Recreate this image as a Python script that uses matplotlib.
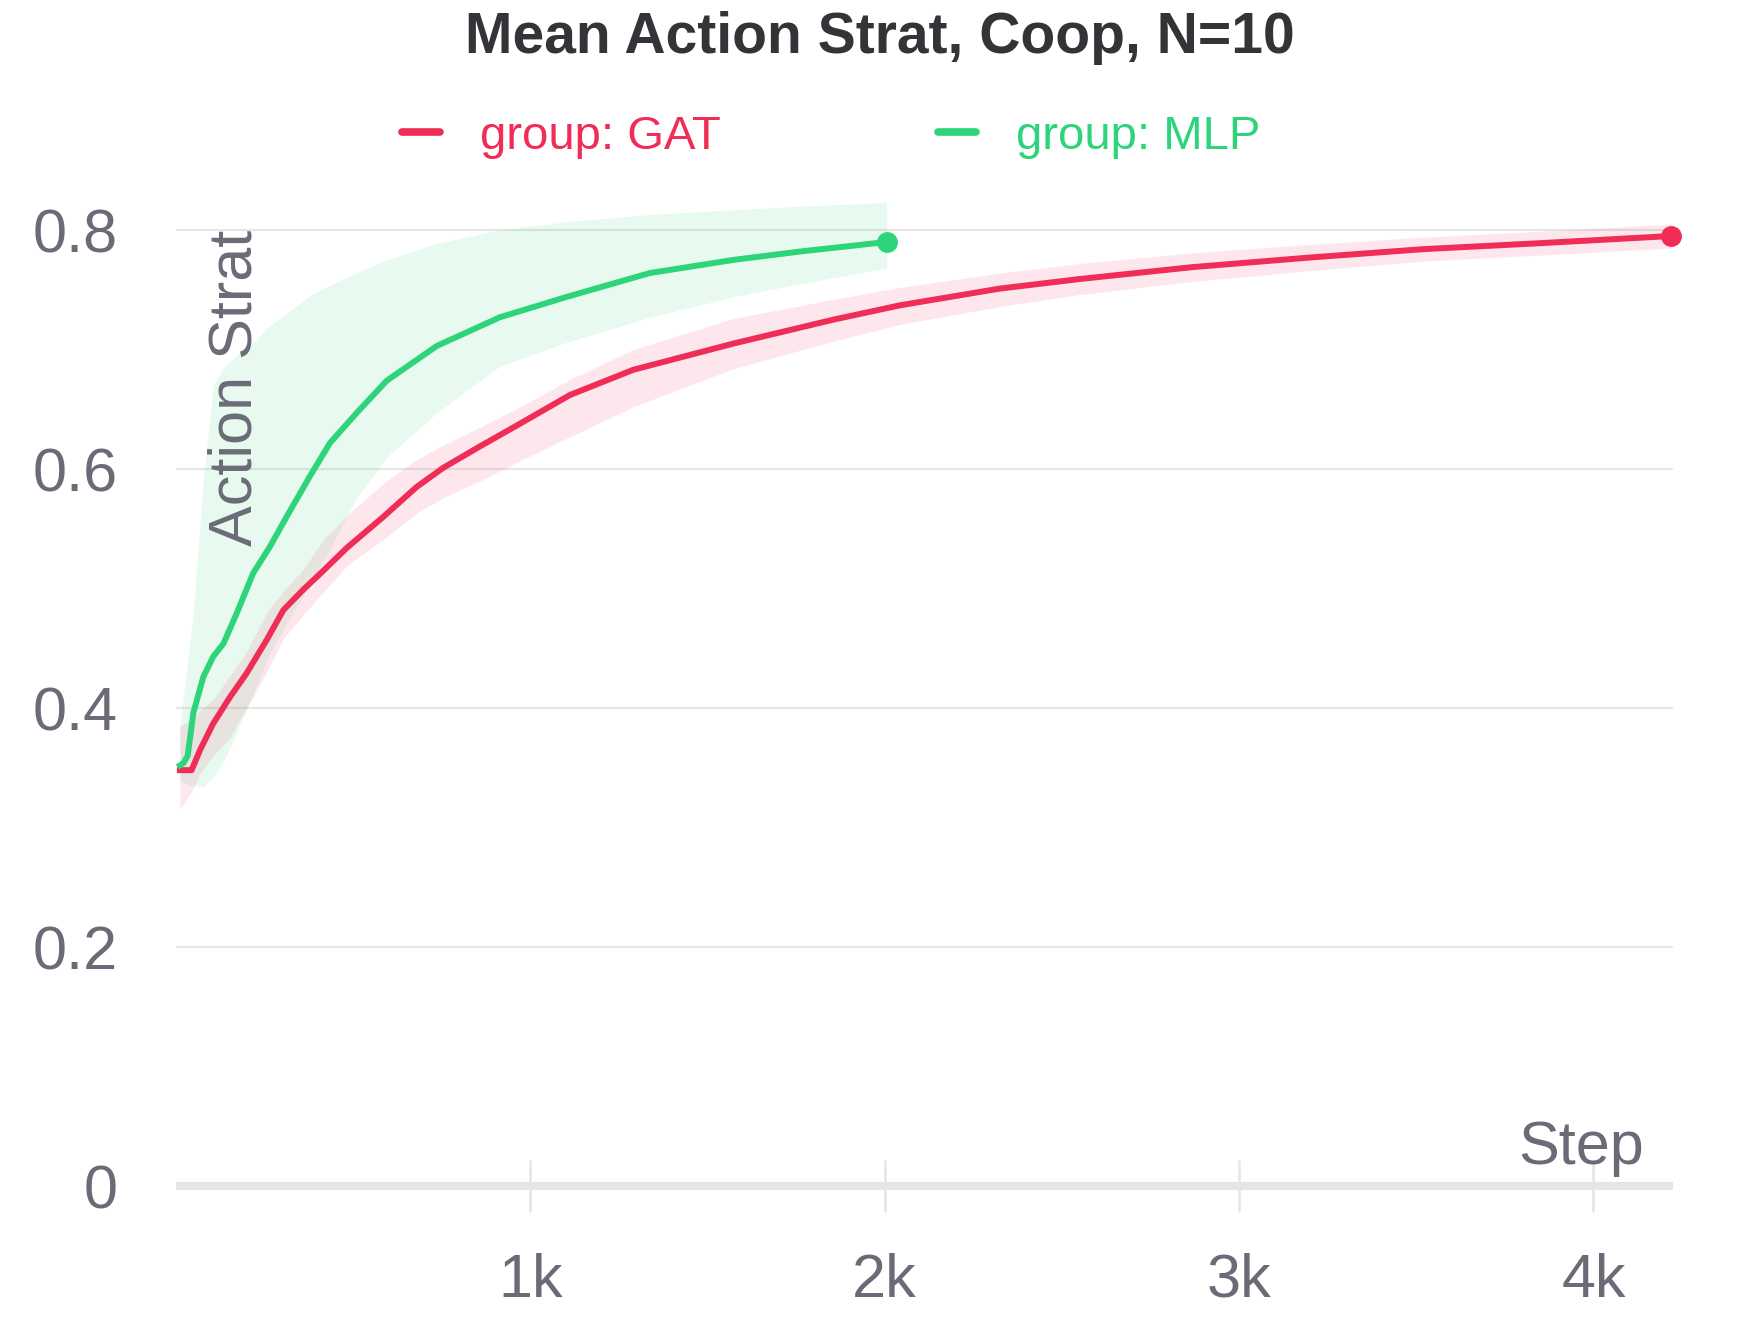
import numpy as np
import matplotlib
matplotlib.use("Agg")
import matplotlib.pyplot as plt

plt.rcParams['font.family'] = ['Liberation Sans', 'DejaVu Sans']

# ---- data ----
gat_step = [11, 44, 68, 105, 152, 199, 256, 303, 359, 416, 482, 585, 679, 754,
            858, 971, 1112, 1290, 1573, 1855, 2043, 2325, 2550, 2870, 3200, 3520,
            3850, 4220]
gat_mean = [0.348, 0.348, 0.365, 0.387, 0.409, 0.429, 0.457, 0.482, 0.499, 0.515,
            0.534, 0.560, 0.585, 0.601, 0.619, 0.638, 0.662, 0.683, 0.705, 0.725,
            0.737, 0.751, 0.759, 0.769, 0.777, 0.784, 0.789, 0.795]
gat_lo = [0.315, 0.330, 0.345, 0.360, 0.375, 0.400, 0.430, 0.458, 0.478, 0.497,
          0.519, 0.541, 0.563, 0.576, 0.590, 0.607, 0.627, 0.652, 0.684, 0.707,
          0.721, 0.736, 0.746, 0.757, 0.766, 0.774, 0.779, 0.785]
gat_hi = [0.385, 0.390, 0.398, 0.407, 0.427, 0.447, 0.480, 0.498, 0.516, 0.541,
          0.561, 0.588, 0.608, 0.620, 0.635, 0.652, 0.675, 0.700, 0.726, 0.742,
          0.752, 0.764, 0.772, 0.781, 0.788, 0.794, 0.799, 0.805]

mlp_step = [11, 21, 33, 49, 77, 105, 134, 171, 218, 265, 312, 378, 435, 510, 595,
            736, 914, 1102, 1337, 1573, 1761, 2005]
mlp_mean = [0.352, 0.354, 0.360, 0.396, 0.426, 0.443, 0.454, 0.479, 0.513, 0.535,
            0.560, 0.594, 0.622, 0.647, 0.674, 0.703, 0.727, 0.744, 0.764, 0.775,
            0.782, 0.790]
mlp_lo = [0.340, 0.338, 0.336, 0.335, 0.334, 0.342, 0.355, 0.379, 0.412, 0.446,
          0.470, 0.504, 0.533, 0.576, 0.610, 0.647, 0.686, 0.706, 0.727, 0.744,
          0.755, 0.768]
mlp_hi = [0.385, 0.410, 0.440, 0.480, 0.591, 0.670, 0.685, 0.695, 0.706, 0.720,
          0.730, 0.745, 0.754, 0.764, 0.775, 0.789, 0.800, 0.807, 0.813, 0.817,
          0.820, 0.823]

y_ticks = [0, 0.2, 0.4, 0.6, 0.8]
y_labels = ["0", "0.2", "0.4", "0.6", "0.8"]
x_ticks = [1000, 2000, 3000, 4000]
x_labels = ["1k", "2k", "3k", "4k"]

RED = "#EF2D56"
GREEN = "#2ED47A"
TXT = "#6B6B78"
GRID = "#E6E6E6"

fig = plt.figure(figsize=(17.6, 13.2), dpi=100)
ax = fig.add_axes([0.1, 0.1015, 0.8507, 0.7514])

# bands
ax.fill_between(mlp_step, mlp_lo, mlp_hi, color=GREEN, alpha=0.11, lw=0, zorder=1)
ax.fill_between(gat_step, gat_lo, gat_hi, color=RED, alpha=0.11, lw=0, zorder=1)

# lines
ax.plot(gat_step, gat_mean, color=RED, lw=4.3, label="group: GAT", zorder=3,
        solid_joinstyle='round')
ax.plot(mlp_step, mlp_mean, color=GREEN, lw=4.3, label="group: MLP", zorder=3,
        solid_joinstyle='round')
ax.plot(gat_step[-1], gat_mean[-1], 'o', color=RED, ms=14, zorder=4, clip_on=False)
ax.plot(mlp_step[-1], mlp_mean[-1], 'o', color=GREEN, ms=14, zorder=4, clip_on=False)

ax.set_xlim(0, 4225)
ax.set_ylim(0, 0.83)

for s in ["top", "right", "left"]:
    ax.spines[s].set_visible(False)
ax.spines["bottom"].set_color("#E5E5E5")
ax.spines["bottom"].set_linewidth(5.8)
ax.spines["bottom"].set_capstyle('butt')
ax.spines["bottom"].set_zorder(0.5)

ax.set_yticks(y_ticks)
ax.set_yticklabels(y_labels)
ax.tick_params(axis='y', length=0, pad=42, labelsize=44, labelcolor=TXT)
ax.yaxis.grid(True, color=GRID, lw=1.5)
ax.set_axisbelow(True)

ax.set_xticks(x_ticks)
ax.set_xticklabels(x_labels)
ax.tick_params(axis='x', direction='inout', length=38, width=1.8, color="#E5E5E5",
               pad=29, labelsize=44, labelcolor=TXT)

# axis titles placed inside the plot, as in the reference
ax.text(0.040, 0.8 / 0.83, "Action Strat", transform=ax.transAxes, rotation=90,
        ha='center', va='top', fontsize=44, color=TXT, zorder=5)
ax.text(0.9806, 0.038, "Step", transform=ax.transAxes, ha='right', va='center',
        fontsize=44, color=TXT, zorder=5)

fig.text(0.5, 1 - 38 / 1320, "Mean Action Strat, Coop, N=10", ha='center', va='center',
         fontsize=41, fontweight='bold', color="#333338")

handles, labels = ax.get_legend_handles_labels()
leg = fig.legend(handles, labels, loc='center left',
                 bbox_to_anchor=(402 / 1760, 1 - 137 / 1320),
                 ncol=2, frameon=False, fontsize=34, handlelength=0.8,
                 handletextpad=0.85, columnspacing=4.6, borderpad=0,
                 borderaxespad=0, labelcolor='linecolor')
for ln in leg.get_lines():
    ln.set_linewidth(5.5)
    ln.set_solid_capstyle('round')

fig.savefig("out.png", dpi=100)
